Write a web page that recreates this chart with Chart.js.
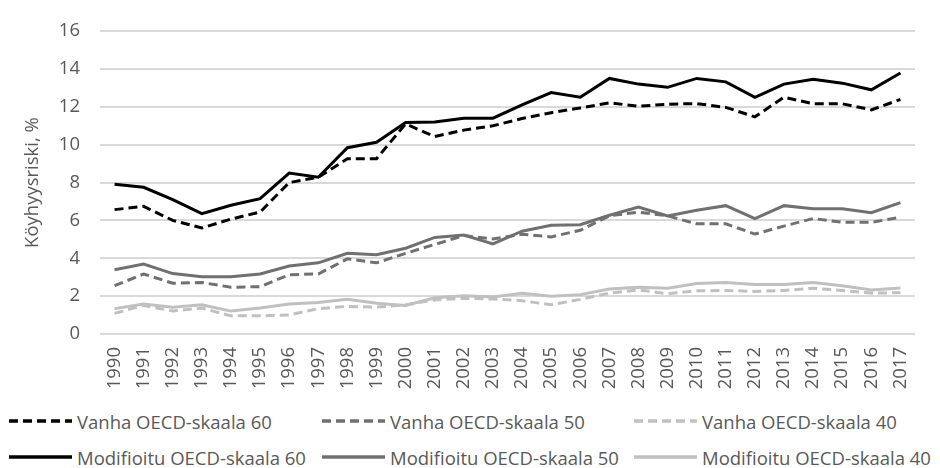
<!DOCTYPE html>
<html>
<head>
<meta charset="utf-8">
<script src="https://cdn.jsdelivr.net/npm/chart.js@4"></script>
<style>
  html, body { margin: 0; padding: 0; background: #fff; }
  #wrap { position: relative; width: 940px; height: 468px; }
  #chart-box { position: absolute; left: 0; top: 0; width: 940px; height: 392px; }
  .leg { position: absolute; display: flex; align-items: center; height: 26px;
         font-family: "Open Sans", sans-serif; font-size: 18.5px; color: #595959; white-space: nowrap; }
  .leg svg { margin-right: 5px; }
</style>
</head>
<body>
<div id="wrap">
  <div id="chart-box"><canvas id="c" width="940" height="392"></canvas></div>
  <div id="legend"></div>
</div>
<script>
const years = ['1990','1991','1992','1993','1994','1995','1996','1997','1998','1999','2000',
  '2001','2002','2003','2004','2005','2006','2007','2008','2009','2010','2011','2012','2013',
  '2014','2015','2016','2017'];

const vanha60 = [6.57, 6.74, 6.0, 5.6, 6.07, 6.44, 8.0, 8.28, 9.26, 9.26, 11.1, 10.43, 10.77, 11.0,
  11.38, 11.69, 11.94, 12.21, 12.03, 12.14, 12.17, 11.97, 11.47, 12.51, 12.16, 12.16, 11.84, 12.39];
const vanha50 = [2.55, 3.17, 2.68, 2.72, 2.47, 2.5, 3.13, 3.17, 3.97, 3.76, 4.26, 4.73, 5.2, 5.02,
  5.27, 5.13, 5.48, 6.24, 6.44, 6.24, 5.82, 5.82, 5.28, 5.7, 6.1, 5.9, 5.9, 6.17];
const vanha40 = [1.09, 1.51, 1.21, 1.37, 0.96, 0.96, 1.01, 1.34, 1.46, 1.42, 1.54, 1.8, 1.88, 1.85,
  1.76, 1.54, 1.83, 2.16, 2.33, 2.13, 2.28, 2.3, 2.25, 2.3, 2.42, 2.3, 2.16, 2.18];
const modif60 = [7.91, 7.75, 7.1, 6.36, 6.8, 7.15, 8.5, 8.28, 9.84, 10.13, 11.17, 11.2, 11.4, 11.4,
  12.1, 12.75, 12.51, 13.5, 13.2, 13.03, 13.5, 13.32, 12.5, 13.2, 13.45, 13.25, 12.9, 13.79];
const modif50 = [3.39, 3.69, 3.19, 3.02, 3.02, 3.17, 3.59, 3.76, 4.26, 4.19, 4.53, 5.1, 5.23, 4.76,
  5.43, 5.74, 5.77, 6.27, 6.71, 6.24, 6.54, 6.78, 6.1, 6.78, 6.61, 6.61, 6.41, 6.94];
const modif40 = [1.34, 1.59, 1.41, 1.54, 1.21, 1.37, 1.59, 1.66, 1.83, 1.63, 1.51, 1.91, 2.02, 1.96,
  2.15, 2.0, 2.08, 2.38, 2.47, 2.42, 2.67, 2.72, 2.62, 2.62, 2.72, 2.55, 2.33, 2.43];

const yTicks = [0, 2, 4, 6, 8, 10, 12, 14, 16];
const yTitle = 'Köyhyysriski, %';

const BLACK = '#000000';
const DARK = '#707070';
const LIGHT = '#c0c0c0';
const DASH = [9, 5];

function line(label, data, color, dashed) {
  return {
    label: label,
    data: data,
    borderColor: color,
    backgroundColor: color,
    borderWidth: 3,
    borderDash: dashed ? DASH : [],
    pointRadius: 0,
    tension: 0,
    fill: false
  };
}

const datasets = [
  line('Vanha OECD-skaala 60', vanha60, BLACK, true),
  line('Vanha OECD-skaala 50', vanha50, DARK, true),
  line('Vanha OECD-skaala 40', vanha40, LIGHT, true),
  line('Modifioitu OECD-skaala 60', modif60, BLACK, false),
  line('Modifioitu OECD-skaala 50', modif50, DARK, false),
  line('Modifioitu OECD-skaala 40', modif40, LIGHT, false)
];

const font = { family: '"Open Sans", sans-serif', size: 18.5 };

new Chart(document.getElementById('c'), {
  type: 'line',
  data: { labels: years, datasets: datasets },
  options: {
    responsive: false,
    animation: false,
    layout: { padding: { left: 0, right: 25, top: 16, bottom: 0 } },
    plugins: { legend: { display: false }, tooltip: { enabled: false } },
    scales: {
      x: {
        offset: true,
        grid: { display: false },
        border: { display: false },
        ticks: { color: '#595959', font: font, minRotation: 90, maxRotation: 90, padding: 5, autoSkip: false },
        afterFit: (s) => { s.height = 58; }
      },
      y: {
        min: 0,
        max: 16,
        afterBuildTicks: (s) => { s.ticks = yTicks.map(v => ({ value: v })); },
        grid: { color: '#d9d9d9', lineWidth: 2, drawTicks: false },
        border: { display: false },
        ticks: { color: '#595959', font: font, padding: 20 },
        title: { display: true, text: yTitle, color: '#595959', font: font, padding: { top: 22, bottom: 0 } },
        afterFit: (s) => { s.width = 100; }
      }
    }
  }
});

// legend, 3 columns x 2 rows
const legendCols = [9, 322, 634];
const legendRows = [421, 457];
const legendEl = document.getElementById('legend');
datasets.forEach((d, i) => {
  const col = i % 3, row = Math.floor(i / 3);
  const item = document.createElement('div');
  item.className = 'leg';
  item.style.left = legendCols[col] + 'px';
  item.style.top = (legendRows[row] - 13) + 'px';
  const dash = d.borderDash.length ? d.borderDash.join(',') : 'none';
  item.innerHTML = '<svg width="63" height="6"><line x1="0" y1="3" x2="63" y2="3" stroke="' + d.borderColor +
    '" stroke-width="3.5" stroke-dasharray="' + dash + '"/></svg>';
  const span = document.createElement('span');
  span.textContent = d.label;
  item.appendChild(span);
  legendEl.appendChild(item);
});
</script>
</body>
</html>
